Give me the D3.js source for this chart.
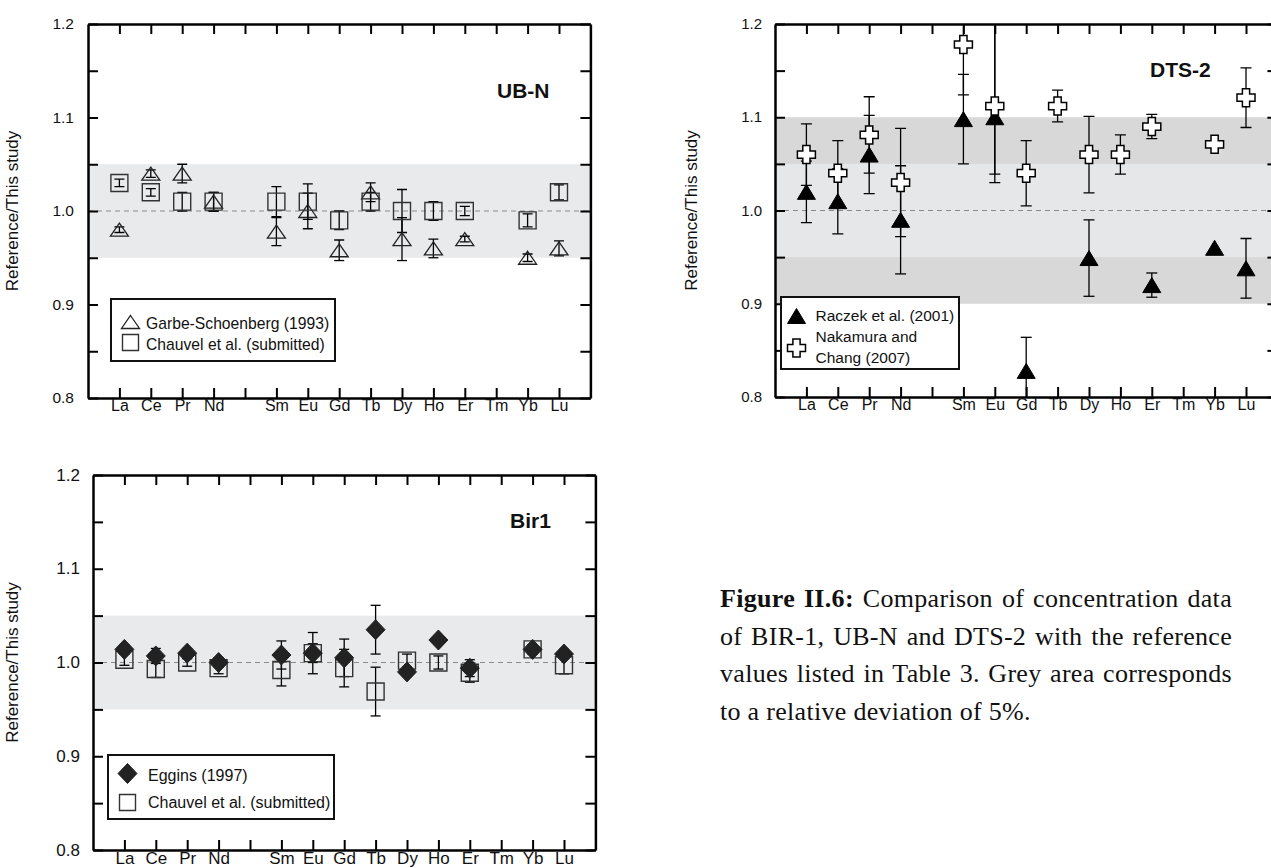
<!DOCTYPE html>
<html lang="en">
<head>
<meta charset="UTF-8">
<title>Reference / This study</title>
<style>
  body { margin: 0; background: #fff; }
  svg { display: block; }
</style>
<script src="https://cdn.jsdelivr.net/npm/d3@7/dist/d3.min.js"></script>
</head>
<body>
<svg id="fig" width="1271" height="868"></svg>
<script>
// x slots (Pm is an empty slot: tick but no label)
var elements = ["La","Ce","Pr","Nd","Pm","Sm","Eu","Gd","Tb","Dy","Ho","Er","Tm","Yb","Lu"];
var elementLabels = ["La","Ce","Pr","Nd","","Sm","Eu","Gd","Tb","Dy","Ho","Er","Tm","Yb","Lu"];
var yTicks = [0.8, 0.85, 0.9, 0.95, 1.0, 1.05, 1.1, 1.15, 1.2];
var yLabels = ["0.8", "", "0.9", "", "1.0", "", "1.1", "", "1.2"];

// UB-N
var ubnGarbe       = [0.98, 1.04, 1.04, 1.01, null, 0.978, 1.0, 0.958, 1.02, 0.97, 0.96, 0.97, null, 0.95, 0.96];
var ubnGarbeErr    = [0.003, 0.004, 0.01, 0.01, null, 0.015, 0.019, 0.011, 0.01, 0.023, 0.01, 0.003, null, 0.004, 0.008];
var ubnChauvel     = [1.03, 1.02, 1.01, 1.01, null, 1.01, 1.01, 0.99, 1.01, 1.0, 1.0, 1.0, null, 0.99, 1.02];
var ubnChauvelErr  = [0.004, 0.004, 0.01, 0.01, null, 0.016, 0.019, 0.01, 0.01, 0.023, 0.01, 0.005, null, 0.007, 0.008];

// DTS-2 (errors as [minus, plus] where they are not symmetric)
var dtsRaczek      = [1.02, 1.01, 1.06, 0.99, null, 1.098, 1.1, 0.828, null, 0.949, null, 0.92, null, 0.96, 0.938];
var dtsRaczekErr   = [0.033, 0.035, 0.042, 0.058, null, 0.048, [0.07, 0.15], [0.05, 0.036], null, 0.041, null, 0.013, null, 0, 0.032];
var dtsNakamura    = [1.06, 1.04, 1.081, 1.03, null, 1.178, 1.112, 1.04, 1.112, 1.06, 1.06, 1.09, null, 1.071, 1.121];
var dtsNakamuraErr = [0.033, 0.035, 0.041, 0.058, null, [0.054, 0.06], [0.073, 0.1], 0.035, 0.017, 0.041, 0.021, 0.013, null, 0, 0.032];

// Bir1
var birEggins      = [1.014, 1.007, 1.01, 1.0, null, 1.008, 1.01, 1.005, 1.035, 0.99, 1.024, 0.994, null, 1.014, 1.009];
var birEgginsErr   = [0.005, 0.008, 0.005, 0.005, null, 0.015, 0.022, 0.02, 0.026, 0.004, 0.004, 0.009, null, 0.005, 0.005];
var birChauvel     = [1.003, 0.993, 1.0, 0.994, null, 0.992, 1.01, 0.994, 0.969, 1.002, 1.0, 0.989, null, 1.014, 0.997];
var birChauvelErr  = [0.006, 0.009, 0.004, 0.006, null, 0.017, 0.01, 0.02, 0.026, 0.007, 0.007, 0.01, null, 0.005, 0.009];

var captionLines = [
  ["Figure II.6:", " Comparison of concentration data"],
  ["", "of BIR-1, UB-N and DTS-2 with the reference"],
  ["", "values listed in Table 3. Grey area corresponds"],
  ["", "to a relative deviation of 5%."]
];

var svg = d3.select("#fig");
var FONT = "'Liberation Sans', Arial, Helvetica, sans-serif";

// marker shapes, centred on 0,0
function triPath(w, h) { return "M0," + (-h / 2) + "L" + (w / 2) + "," + (h / 2) + "L" + (-w / 2) + "," + (h / 2) + "Z"; }
function sqPath(s) { return "M" + (-s / 2) + "," + (-s / 2) + "h" + s + "v" + s + "h" + (-s) + "Z"; }
function diaPath(w, h) { return "M0," + (-h / 2) + "L" + (w / 2) + ",0L0," + (h / 2) + "L" + (-w / 2) + ",0Z"; }
function crossPath(a, b) {
  return "M" + (-b) + "," + (-a) + "H" + b + "V" + (-b) + "H" + a + "V" + b + "H" + b + "V" + a +
         "H" + (-b) + "V" + b + "H" + (-a) + "V" + (-b) + "H" + (-b) + "Z";
}

var markers = {
  openTri:   { d: triPath(18, 13), fill: "none", stroke: "#222", sw: 1.3 },
  openSq:    { d: sqPath(17), fill: "none", stroke: "#333", sw: 1.4 },
  blackTri:  { d: triPath(18, 15), fill: "#000", stroke: "#000", sw: 1 },
  whiteCross:{ d: crossPath(9, 3.6), fill: "#fff", stroke: "#000", sw: 1.5 },
  diamond:   { d: diaPath(19, 20), fill: "#222", stroke: "#222", sw: 1 }
};

function rows(values, errs) {
  return elements.map(function(el, i) {
    if (values[i] == null) return null;
    var e = errs[i] || 0;
    var lo = Array.isArray(e) ? e[0] : e, hi = Array.isArray(e) ? e[1] : e;
    return { el: el, v: values[i], lo: values[i] - lo, hi: values[i] + hi };
  }).filter(function(d) { return d; });
}

var clipId = 0;
function drawPanel(p) {
  var g = svg.append("g").attr("transform", "translate(" + p.left + "," + p.top + ")");
  var w = p.width, h = p.height;
  var x = d3.scalePoint().domain(elements).range([0, w]).padding(1);
  var y = d3.scaleLinear().domain([0.8, 1.2]).range([h, 0]);

  var id = "clip" + (clipId++);
  g.append("clipPath").attr("id", id).append("rect").attr("width", w).attr("height", h);
  var plot = g.append("g").attr("clip-path", "url(#" + id + ")");

  // grey bands
  p.bands.forEach(function(b) {
    plot.append("rect").attr("x", 0).attr("width", w)
      .attr("y", y(b[1])).attr("height", y(b[0]) - y(b[1])).attr("fill", b[2]);
  });
  plot.append("line").attr("x1", 0).attr("x2", w).attr("y1", y(1)).attr("y2", y(1))
    .attr("stroke", "#8a8a8a").attr("stroke-width", 1.2).attr("stroke-dasharray", "5,4");

  // error bars first, then markers
  p.series.forEach(function(s) {
    var data = rows(s.values, s.errs);
    var eb = plot.append("g").attr("stroke", "#000").attr("stroke-width", 1.3).attr("fill", "none");
    data.filter(function(d) { return d.hi > d.lo; }).forEach(function(d) {
      var cx = x(d.el);
      eb.append("line").attr("x1", cx).attr("x2", cx).attr("y1", y(d.hi)).attr("y2", y(d.lo));
      eb.append("line").attr("x1", cx - p.cap).attr("x2", cx + p.cap).attr("y1", y(d.hi)).attr("y2", y(d.hi));
      eb.append("line").attr("x1", cx - p.cap).attr("x2", cx + p.cap).attr("y1", y(d.lo)).attr("y2", y(d.lo));
    });
  });
  p.series.forEach(function(s) {
    var m = markers[s.marker];
    plot.append("g").selectAll("path").data(rows(s.values, s.errs)).join("path")
      .attr("d", m.d)
      .attr("transform", function(d) { return "translate(" + x(d.el) + "," + y(d.v) + ")"; })
      .attr("fill", m.fill).attr("stroke", m.stroke).attr("stroke-width", m.sw);
  });

  // axes: ticks point inwards on all four sides
  var fmtY = function(d) { return yLabels[yTicks.indexOf(d)]; };
  var axes = [
    g.append("g").call(d3.axisLeft(y).tickValues(yTicks).tickFormat(fmtY).tickSize(-10).tickSizeOuter(0).tickPadding(p.yPad)),
    g.append("g").attr("transform", "translate(" + w + ",0)").call(d3.axisRight(y).tickValues(yTicks).tickFormat("").tickSize(-10).tickSizeOuter(0)),
    g.append("g").call(d3.axisTop(x).tickFormat("").tickSize(-10).tickSizeOuter(0)),
    g.append("g").attr("transform", "translate(0," + h + ")")
      .call(d3.axisBottom(x).tickFormat(function(d, i) { return elementLabels[i]; }).tickSize(-10).tickSizeOuter(0).tickPadding(2))
  ];
  axes.forEach(function(a) {
    a.select(".domain").attr("stroke", "#000").attr("stroke-width", 2.5);
    a.selectAll(".tick line").attr("stroke", "#000").attr("stroke-width", 2);
    a.selectAll("text").attr("font-family", FONT).attr("fill", "#111");
  });
  axes[0].selectAll("text").attr("font-size", p.tickFont).attr("dy", "0.3em");
  axes[3].selectAll("text").attr("font-size", p.xFont);

  g.append("text").attr("transform", "translate(" + p.yTitleX + "," + (h / 2) + ") rotate(-90)")
    .attr("text-anchor", "middle").attr("font-family", FONT).attr("font-size", p.titleFont)
    .attr("fill", "#111").text("Reference/This study");

  g.append("text").attr("x", p.name[1]).attr("y", p.name[2])
    .attr("font-family", FONT).attr("font-size", 21).attr("font-weight", "bold").attr("fill", "#111")
    .text(p.name[0]);

  // legend
  var L = p.legend;
  var lg = g.append("g").attr("transform", "translate(" + L.x + "," + L.y + ")");
  lg.append("rect").attr("width", L.w).attr("height", L.h).attr("fill", "#fff")
    .attr("stroke", "#111").attr("stroke-width", 2);
  L.items.forEach(function(it) {
    var m = markers[it.marker];
    lg.append("path").attr("d", it.marker === "openSq" ? sqPath(16) : m.d)
      .attr("transform", "translate(" + it.sx + "," + it.sy + ")")
      .attr("fill", m.fill).attr("stroke", m.stroke).attr("stroke-width", m.sw);
    it.lines.forEach(function(t, k) {
      lg.append("text").attr("x", L.tx).attr("y", it.ty + k * 21.3)
        .attr("font-family", FONT).attr("font-size", L.font).attr("fill", "#111").text(t);
    });
  });
}

var W = 31.4 * 16;

drawPanel({
  left: 88, top: 24, width: W, height: 374,
  bands: [[0.95, 1.05, "#e9eaeb"]],
  cap: 5, yPad: 14, tickFont: 15.5, xFont: 16, titleFont: 17, yTitleX: -70,
  name: ["UB-N", 409, 74],
  series: [
    { values: ubnGarbe, errs: ubnGarbeErr, marker: "openTri" },
    { values: ubnChauvel, errs: ubnChauvelErr, marker: "openSq" }
  ],
  legend: { x: 23, y: 275, w: 224, h: 62, tx: 35, font: 15.7,
    items: [
      { marker: "openTri", sx: 19.5, sy: 23, ty: 29.5, lines: ["Garbe-Schoenberg (1993)"] },
      { marker: "openSq", sx: 19.5, sy: 43.5, ty: 51, lines: ["Chauvel et al. (submitted)"] }
    ] }
});

drawPanel({
  left: 775, top: 24, width: W, height: 373,
  bands: [[0.9, 1.1, "#d8d8d9"], [0.95, 1.05, "#e6e7e8"]],
  cap: 5.5, yPad: 13, tickFont: 15, xFont: 16, titleFont: 17, yTitleX: -78,
  name: ["DTS-2", 375, 53],
  series: [
    { values: dtsRaczek, errs: dtsRaczekErr, marker: "blackTri" },
    { values: dtsNakamura, errs: dtsNakamuraErr, marker: "whiteCross" }
  ],
  legend: { x: 6, y: 273, w: 178, h: 72, tx: 34.5, font: 15.5,
    items: [
      { marker: "blackTri", sx: 15.5, sy: 19, ty: 24, lines: ["Raczek et al. (2001)"] },
      { marker: "whiteCross", sx: 15.5, sy: 51, ty: 45, lines: ["Nakamura and", "Chang (2007)"] }
    ] }
});

drawPanel({
  left: 93, top: 475, width: W, height: 375,
  bands: [[0.95, 1.05, "#e9eaeb"]],
  cap: 5, yPad: 13, tickFont: 17, xFont: 17, titleFont: 17, yTitleX: -75,
  name: ["Bir1", 417, 53],
  series: [
    { values: birChauvel, errs: birChauvelErr, marker: "openSq" },
    { values: birEggins, errs: birEgginsErr, marker: "diamond" }
  ],
  legend: { x: 15, y: 280, w: 226, h: 64, tx: 40, font: 16,
    items: [
      { marker: "diamond", sx: 19.5, sy: 18.5, ty: 26, lines: ["Eggins (1997)"] },
      { marker: "openSq", sx: 19.5, sy: 47.5, ty: 53, lines: ["Chauvel et al. (submitted)"] }
    ] }
});

// caption, justified to a fixed width except for the last line
var capX = 720, capRight = 1232, capY = 607, capStep = 37.5;
captionLines.forEach(function(parts, i) {
  var t = svg.append("text").attr("x", capX).attr("y", capY + i * capStep)
    .attr("font-family", "'Liberation Serif', 'Times New Roman', serif").attr("font-size", 26)
    .attr("letter-spacing", 0.3).attr("fill", "#111");
  if (parts[0]) t.append("tspan").attr("font-weight", "bold").text(parts[0]);
  t.append("tspan").text(parts[1]);
  if (i < captionLines.length - 1) {
    var txt = parts[0] + parts[1];
    var spaces = (txt.match(/ /g) || []).length;
    var extra = (capRight - capX) - t.node().getComputedTextLength();
    if (spaces > 0) t.attr("word-spacing", Math.max(0, extra / spaces));
  }
});
</script>
</body>
</html>
